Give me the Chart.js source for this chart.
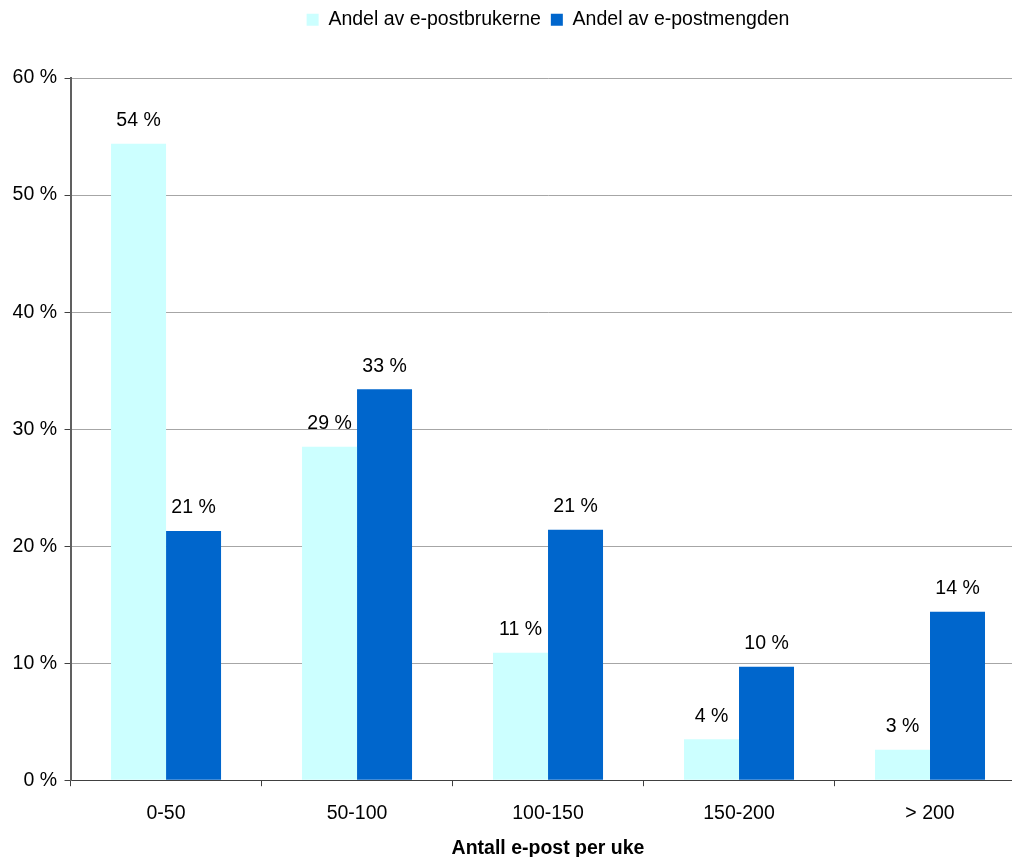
<!DOCTYPE html>
<html>
<head>
<meta charset="utf-8">
<script src="https://cdn.jsdelivr.net/npm/chart.js@4/dist/chart.umd.min.js"></script>
<style>
    html, body { margin: 0; padding: 0; background: #fff; overflow: hidden; }
    #wrap { position: absolute; left: 0; top: 0; width: 1012px; height: 857px; overflow: hidden; }
</style>
</head>
<body>
<div id="wrap">
    <canvas id="myChart" width="1030" height="863"></canvas>
</div>
<script>
var categories = ["0-50", "50-100", "100-150", "150-200", "> 200"];
var brukerne = [54.4, 28.5, 10.9, 3.5, 2.6];
var mengden = [21.3, 33.4, 21.4, 9.7, 14.4];
var seriesNames = ["Andel av e-postbrukerne", "Andel av e-postmengden"];
var yTicks = [0, 10, 20, 30, 40, 50, 60];
var xTitle = "Antall e-post per uke";

var fontFamily = "'Liberation Sans', Arial, sans-serif";

// extra room between legend and plot
const legendMargin = {
    id: "legendMargin",
    beforeInit(chart) {
        const fit = chart.legend.fit;
        chart.legend.fit = function () {
            fit.bind(chart.legend)();
            this.height += 38.6;
        };
    }
};

// value above every bar
const barValues = {
    id: "barValues",
    afterDatasetsDraw(chart) {
        const ctx = chart.ctx;
        ctx.save();
        ctx.font = "19.5px " + fontFamily;
        ctx.fillStyle = "#000";
        ctx.textAlign = "center";
        ctx.textBaseline = "middle";
        chart.data.datasets.forEach((ds, i) => {
            chart.getDatasetMeta(i).data.forEach((bar, j) => {
                ctx.fillText(Math.round(ds.data[j]) + " %", bar.x, bar.y - 23);
            });
        });
        ctx.restore();
    }
};

window.myChart = new Chart("myChart", {
    type: "bar",
    data: {
        labels: categories,
        datasets: [{
            label: seriesNames[0],
            backgroundColor: "#CCFFFF",
            data: brukerne
        }, {
            label: seriesNames[1],
            backgroundColor: "#0066CC",
            data: mengden
        }]
    },
    options: {
        responsive: false,
        animation: false,
        categoryPercentage: 0.576,
        barPercentage: 1,
        layout: {
            padding: { left: 5.1, right: 4.5, top: 0, bottom: 1 }
        },
        plugins: {
            legend: {
                position: "top",
                fullSize: false,
                labels: {
                    color: "#000",
                    font: { family: fontFamily, size: 19.5 },
                    boxWidth: 12,
                    boxHeight: 12,
                    padding: 10
                }
            },
            tooltip: { enabled: false }
        },
        scales: {
            x: {
                grid: {
                    offset: true,
                    drawOnChartArea: false,
                    tickLength: 6,
                    tickColor: "#404040"
                },
                border: { color: "#404040", width: 1 },
                ticks: {
                    color: "#000",
                    padding: 16,
                    font: { family: fontFamily, size: 19.5 }
                },
                title: {
                    display: true,
                    text: xTitle,
                    color: "#000",
                    padding: { top: -5, bottom: 2 },
                    font: { family: fontFamily, size: 19.5, weight: "bold" }
                }
            },
            y: {
                min: yTicks[0],
                max: yTicks[yTicks.length - 1],
                afterBuildTicks(axis) {
                    axis.ticks = yTicks.map(v => ({ value: v }));
                },
                grid: {
                    color: "#a6a6a6",
                    lineWidth: 1,
                    tickLength: 6,
                    tickColor: "#404040"
                },
                border: { color: "#606060", width: 2 },
                ticks: {
                    color: "#000",
                    padding: 7.5,
                    font: { family: fontFamily, size: 19.5 },
                    callback: v => v + " %"
                }
            }
        }
    },
    plugins: [legendMargin, barValues]
});
</script>
</body>
</html>
